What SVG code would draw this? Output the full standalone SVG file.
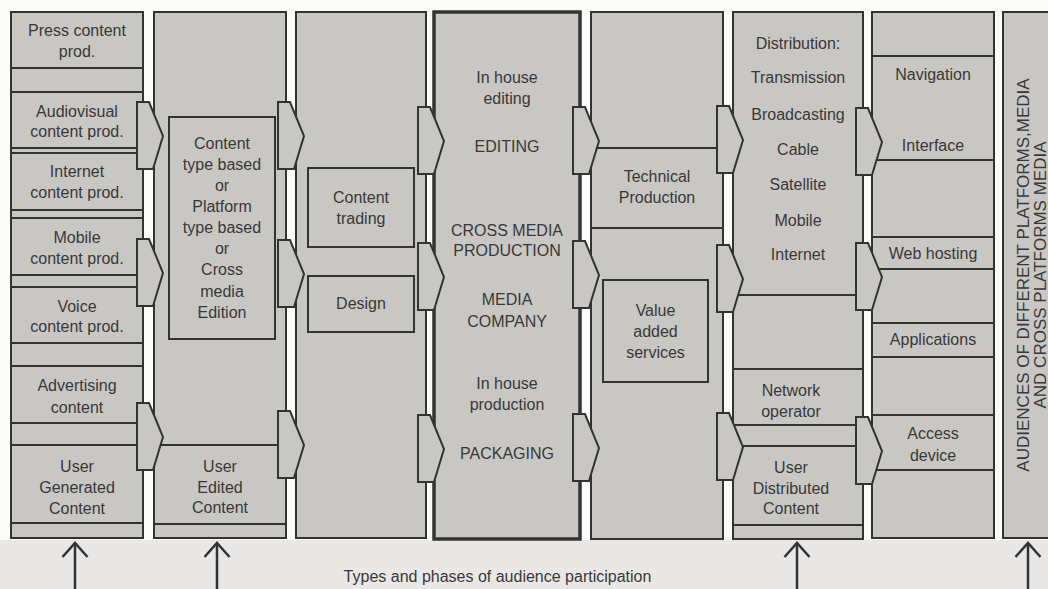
<svg xmlns="http://www.w3.org/2000/svg" width="1048" height="589" viewBox="0 0 1048 589">
<defs>
<style>
.col{fill:#c9c7c4;stroke:#333;stroke-width:2}
.thick{fill:#c9c7c4;stroke:#333;stroke-width:3.5}
.row{fill:#c9c7c4;stroke:#333;stroke-width:2}
.chev{fill:#c9c7c4;stroke:#333;stroke-width:2;stroke-linejoin:miter}
.up{fill:none;stroke:#333;stroke-width:2.5}
text{font-family:"Liberation Sans",Arial,sans-serif;font-size:16px;fill:#383838;text-anchor:middle}
.big{font-size:17px}
</style>
<polygon id="chev" points="0,0 12,0 26,34 16,67 0,67"/>
<g id="uparrow"><line x1="0" y1="543" x2="0" y2="589"/><polyline points="-12.5,557 0,543 12.5,557"/></g>
</defs>
<rect x="0" y="0" width="1048" height="589" fill="#fbfbfa"/>
<rect x="0" y="540" width="1048" height="49" fill="#e9e8e6"/>

<g id="column1">
<rect class="col" x="11" y="12" width="132" height="526"/>
<g id="press"><rect class="row" x="11" y="12" width="132" height="56"/><text x="77" y="35.5">Press content</text><text x="77" y="56.5">prod.</text></g>
<g id="audiovisual"><rect class="row" x="11" y="92" width="132" height="56"/><text x="77" y="116.5">Audiovisual</text><text x="77" y="137">content prod.</text></g>
<g id="internet"><rect class="row" x="11" y="153" width="132" height="57"/><text x="77" y="177">Internet</text><text x="77" y="197.5">content prod.</text></g>
<g id="mobile"><rect class="row" x="11" y="218" width="132" height="57"/><text x="77" y="243">Mobile</text><text x="77" y="264">content prod.</text></g>
<g id="voice"><rect class="row" x="11" y="287" width="132" height="56"/><text x="77" y="311.5">Voice</text><text x="77" y="332">content prod.</text></g>
<g id="advertising"><rect class="row" x="11" y="366" width="132" height="57"/><text x="77" y="391">Advertising</text><text x="77" y="412.5">content</text></g>
<g id="ugc"><rect class="row" x="11" y="445" width="132" height="78"/><text x="77" y="472">User</text><text x="77" y="493">Generated</text><text x="77" y="514">Content</text></g>
</g>

<g id="column2">
<rect class="col" x="154" y="12" width="132" height="526"/>
<g id="contenttype"><rect class="row" x="169" y="117" width="106" height="222"/>
<text x="222" y="149">Content</text><text x="222" y="170">type based</text><text x="222" y="191">or</text><text x="222" y="212">Platform</text><text x="222" y="233">type based</text><text x="222" y="254">or</text><text x="222" y="275">Cross</text><text x="222" y="296.5">media</text><text x="222" y="318">Edition</text></g>
<g id="uec"><rect class="row" x="154" y="445" width="132" height="79"/><text x="220" y="472">User</text><text x="220" y="492.5">Edited</text><text x="220" y="513">Content</text></g>
</g>

<g id="column3">
<rect class="col" x="296" y="12" width="130" height="526"/>
<g id="trading"><rect class="row" x="308" y="168" width="106" height="79"/><text x="361" y="203">Content</text><text x="361" y="224">trading</text></g>
<g id="design"><rect class="row" x="308" y="276" width="106" height="56"/><text x="361" y="309">Design</text></g>
</g>

<g id="column4">
<rect class="thick" x="434" y="12" width="146" height="527"/>
<text x="507" y="83">In house</text><text x="507" y="103.5">editing</text>
<text x="507" y="151.5">EDITING</text>
<text x="507" y="235.5">CROSS MEDIA</text><text x="507" y="255.5">PRODUCTION</text>
<text x="507" y="305">MEDIA</text><text x="507" y="326.5">COMPANY</text>
<text x="507" y="389">In house</text><text x="507" y="410">production</text>
<text x="507" y="458.5">PACKAGING</text>
</g>

<g id="column5">
<rect class="col" x="591" y="12" width="132" height="527"/>
<g id="technical"><rect class="row" x="591" y="148" width="132" height="80"/><text x="657" y="182">Technical</text><text x="657" y="203">Production</text></g>
<g id="valueadded"><rect class="row" x="603" y="280" width="105" height="102"/><text x="655.5" y="316">Value</text><text x="655.5" y="337">added</text><text x="655.5" y="357.5">services</text></g>
</g>

<g id="column6">
<rect class="col" x="733" y="12" width="130" height="527"/>
<g id="distribution"><rect class="row" x="733" y="12" width="130" height="283"/>
<text x="798" y="49">Distribution:</text><text x="798" y="83">Transmission</text><text x="798" y="119.5">Broadcasting</text><text x="798" y="155">Cable</text><text x="798" y="190">Satellite</text><text x="798" y="226">Mobile</text><text x="798" y="260">Internet</text></g>
<g id="network"><rect class="row" x="733" y="369" width="130" height="56"/><text x="791" y="396">Network</text><text x="791" y="416.5">operator</text></g>
<g id="udc"><rect class="row" x="733" y="446" width="130" height="79"/><text x="791" y="473">User</text><text x="791" y="494">Distributed</text><text x="791" y="514">Content</text></g>
</g>

<g id="column7">
<rect class="col" x="872" y="12" width="122" height="526"/>
<g id="navigation"><rect class="row" x="872" y="56" width="122" height="104"/><text x="933" y="80">Navigation</text><text x="933" y="150.5">Interface</text></g>
<g id="webhosting"><rect class="row" x="872" y="237" width="122" height="32"/><text x="933" y="258.5">Web hosting</text></g>
<g id="applications"><rect class="row" x="872" y="323" width="122" height="34"/><text x="933" y="345">Applications</text></g>
<g id="access"><rect class="row" x="872" y="415" width="122" height="55"/><text x="933" y="439">Access</text><text x="933" y="460.5">device</text></g>
</g>

<g id="column8">
<rect class="col" x="1003" y="12" width="70" height="526"/>
<text class="big" transform="translate(1029,275) rotate(-90)"><tspan x="0" y="0">AUDIENCES OF DIFFERENT PLATFORMS,MEDIA</tspan><tspan x="0" y="17">AND CROSS PLATFORMS MEDIA</tspan></text>
</g>

<g id="connectors">
<use href="#chev" class="chev" x="137" y="102"/>
<use href="#chev" class="chev" x="137" y="239"/>
<use href="#chev" class="chev" x="137" y="403"/>
<use href="#chev" class="chev" x="278" y="102"/>
<use href="#chev" class="chev" x="278" y="240"/>
<use href="#chev" class="chev" x="278" y="411"/>
<use href="#chev" class="chev" x="418" y="107"/>
<use href="#chev" class="chev" x="418" y="243"/>
<use href="#chev" class="chev" x="418" y="415"/>
<use href="#chev" class="chev" x="573" y="107"/>
<use href="#chev" class="chev" x="573" y="241"/>
<use href="#chev" class="chev" x="573" y="414"/>
<use href="#chev" class="chev" x="717" y="106"/>
<use href="#chev" class="chev" x="717" y="245"/>
<use href="#chev" class="chev" x="717" y="413"/>
<use href="#chev" class="chev" x="856" y="108"/>
<use href="#chev" class="chev" x="856" y="243"/>
<use href="#chev" class="chev" x="856" y="417"/>
<use href="#uparrow" class="up" x="75" y="0"/>
<use href="#uparrow" class="up" x="217" y="0"/>
<use href="#uparrow" class="up" x="797" y="0"/>
<use href="#uparrow" class="up" x="1028" y="0"/>
</g>

<text x="497.5" y="582">Types and phases of audience participation</text>
</svg>
